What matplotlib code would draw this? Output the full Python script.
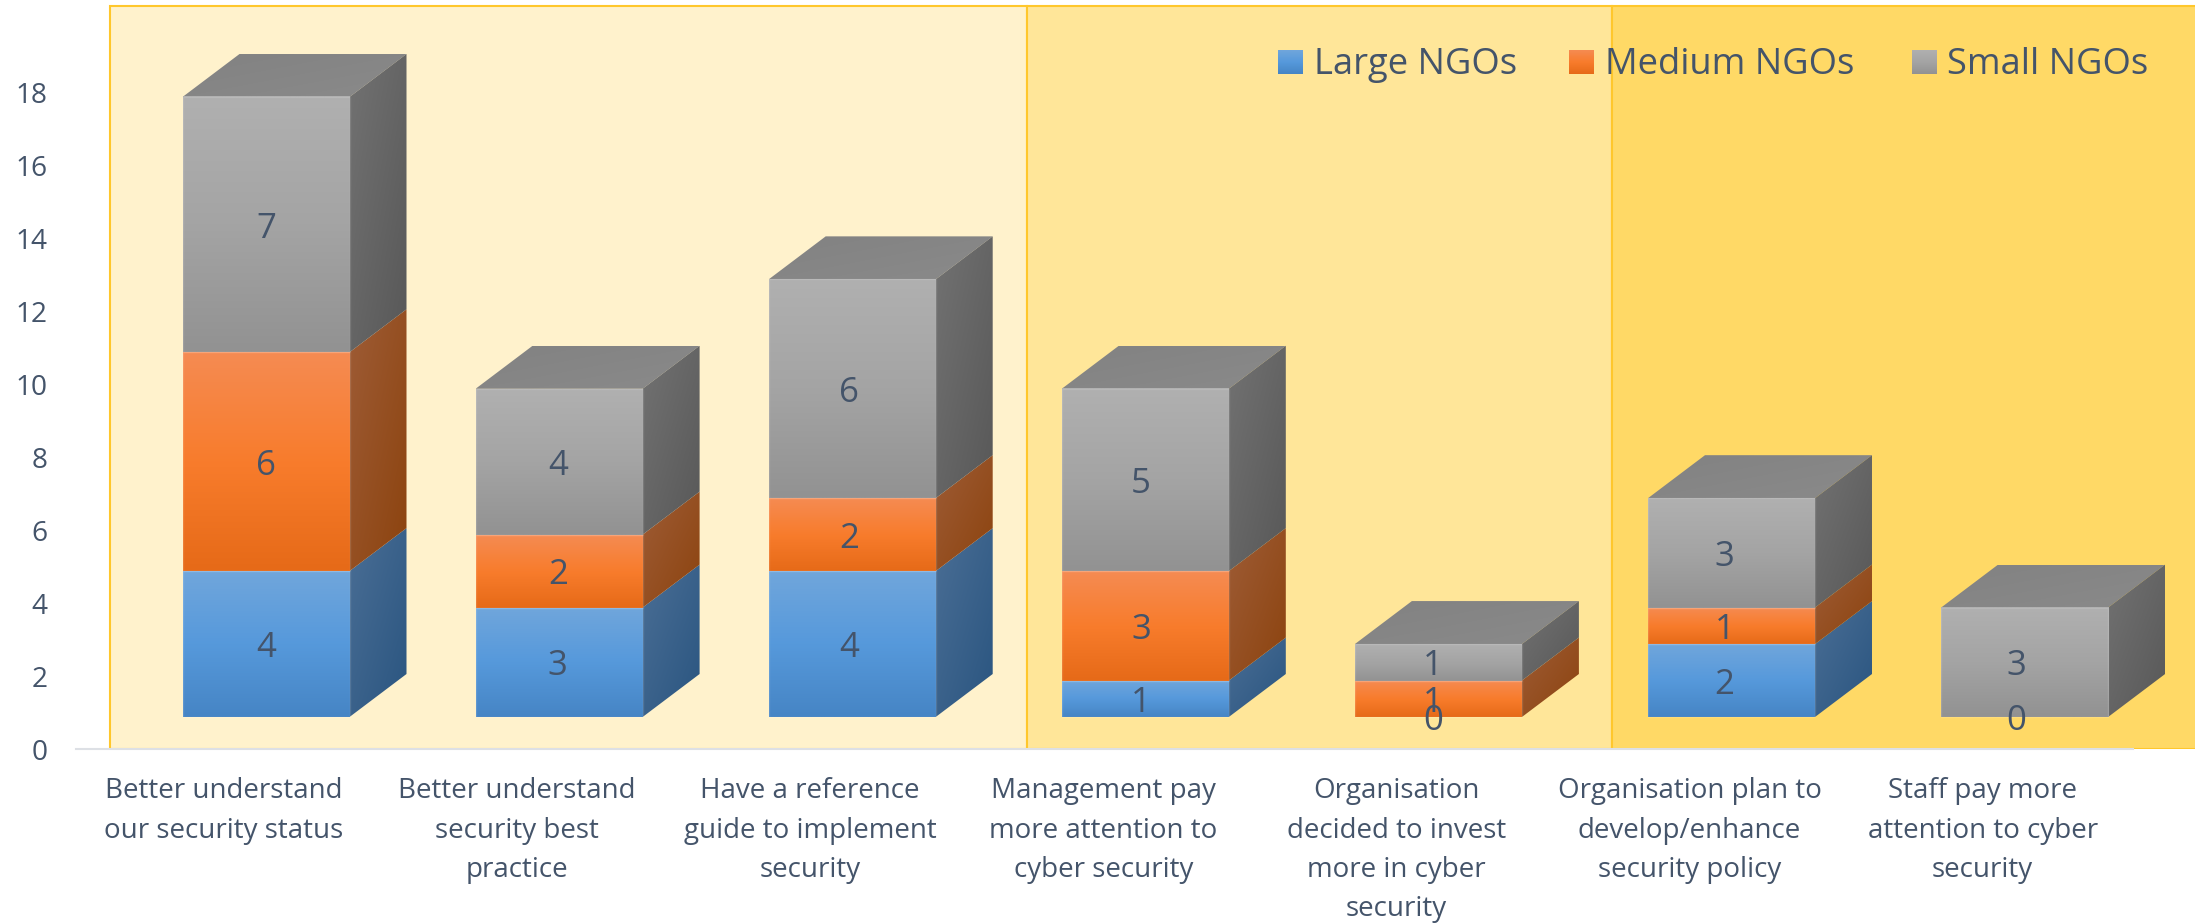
"""Gestapeltes Saulendiagramm (3D-Optik) zur Wirkung der Security-Massnahmen bei NGOs."""

import numpy as np
import matplotlib
matplotlib.use("Agg")
import matplotlib.pyplot as plt
from matplotlib.patches import Polygon, Rectangle

plt.rcParams["font.family"] = ["Open Sans", "DejaVu Sans"]

CATEGORIES = [
    "Better understand\nour security status",
    "Better understand\nsecurity best\npractice",
    "Have a reference\nguide to implement\nsecurity",
    "Management pay\nmore attention to\ncyber security",
    "Organisation\ndecided to invest\nmore in cyber\nsecurity",
    "Organisation plan to\ndevelop/enhance\nsecurity policy",
    "Staff pay more\nattention to cyber\nsecurity",
]
SERIES_NAMES = ["Large NGOs", "Medium NGOs", "Small NGOs"]
LARGE = [4, 3, 4, 1, 0, 2, 0]
MEDIUM = [6, 2, 2, 3, 1, 1, np.nan]
SMALL = [7, 4, 6, 5, 1, 3, 3]
Y_TICKS = [0, 2, 4, 6, 8, 10, 12, 14, 16, 18]

W, H = 2195, 923
TEXT_COLOR = "#44546A"
PX_X = 293.1    # Pixel pro Kategorie
PX_Y = 36.47    # Pixel pro Werteinheit
X0_PX = 224     # Pixelposition von Kategorie 0
Y0_PX = 749     # Pixelposition von Wert 0
AX_LEFT = 76

BAR_W = 167 / PX_X
BAR_SHIFT = 42 / PX_X
FLOOR = 32 / PX_Y
DEPTH_X = 57 / PX_X
DEPTH_Y = 43 / PX_Y
LABEL_DRIFT = -1.4 / PX_X

# Verlaeufe: Front oben/mitte/unten, Seite hell/dunkel
FRONT = [
    ["#70A6DC", "#5699DB", "#4685C5"],
    ["#F58B52", "#F87C2C", "#E66A18"],
    ["#B0B0B0", "#A4A4A4", "#929292"],
]
SIDE = [
    ["#4A6E95", "#2A5580"],
    ["#9E5C36", "#8C430E"],
    ["#727272", "#585858"],
]
TOP = ["#828282", "#8A8A8A"]

PANELS = [(110, 1027, "#FFF2CC"), (1027, 1612, "#FFE699"), (1612, 2240, "#FFD966")]
PANEL_EDGE = "#FFC72C"


def to_rgb(c):
    return np.array(matplotlib.colors.to_rgb(c))


def xd(px):
    return (px - X0_PX) / PX_X


def yd(py):
    return (Y0_PX - py) / PX_Y


def vertical_gradient(stops, n=80):
    pos = np.linspace(0, 1, n)
    rgb = np.array([to_rgb(c) for c in stops])
    anchor = np.linspace(0, 1, len(stops))
    col = np.stack([np.interp(pos, anchor, rgb[:, k]) for k in range(3)], axis=-1)
    return col[:, None, :]


def diagonal_gradient(c1, c2, n=60):
    u, v = np.meshgrid(np.linspace(0, 1, n), np.linspace(0, 1, n))
    t = ((u + v) / 2)[..., None]
    return to_rgb(c1) * (1 - t) + to_rgb(c2) * t


def draw_front(ax, x0, x1, y0, y1, stops):
    ax.imshow(vertical_gradient(stops), extent=(x0, x1, y0, y1), origin="upper",
              aspect="auto", interpolation="bilinear", zorder=3)
    # feine helle Kante
    ax.add_patch(Rectangle((x0, y0), x1 - x0, y1 - y0, fill=False,
                           ec=(1, 1, 1, 0.12), lw=1.0, zorder=3.2))


def draw_skew(ax, pts, c1, c2, zorder=2.8):
    xs = [p[0] for p in pts]
    ys = [p[1] for p in pts]
    im = ax.imshow(diagonal_gradient(c1, c2), extent=(min(xs), max(xs), min(ys), max(ys)),
                   origin="upper", aspect="auto", interpolation="bilinear", zorder=zorder)
    poly = Polygon(pts, closed=True, transform=ax.transData, fc="none", ec="none")
    ax.add_patch(poly)
    im.set_clip_path(poly)


fig = plt.figure(figsize=(W / 100, H / 100), dpi=100)
ax = fig.add_axes([AX_LEFT / W, (H - Y0_PX) / H, (W - AX_LEFT) / W, Y0_PX / H])
ax.patch.set_alpha(0)

# Hintergrundfelder
for left, right, color in PANELS:
    ax.add_patch(Rectangle((xd(left), 0), xd(right) - xd(left), yd(5.5),
                           fc=color, ec=PANEL_EDGE, lw=1.5, zorder=1, clip_on=True))

# Saeulen von unten nach oben stapeln
series = [np.array(LARGE, float), np.array(MEDIUM, float), np.array(SMALL, float)]
for i in range(len(CATEGORIES)):
    x0 = i + BAR_SHIFT - BAR_W / 2
    x1 = x0 + BAR_W
    base = FLOOR
    for k, values in enumerate(series):
        val = values[i]
        if np.isnan(val):
            continue
        top = base + val
        label_y = (base + top) / 2
        if val > 0:
            draw_skew(ax, [(x1, base), (x1, top), (x1 + DEPTH_X, top + DEPTH_Y),
                           (x1 + DEPTH_X, base + DEPTH_Y)], SIDE[k][0], SIDE[k][1])
            draw_front(ax, x0, x1, base, top, FRONT[k])
        ax.text(i + BAR_SHIFT + LABEL_DRIFT * i, label_y, f"{val:.0f}",
                ha="center", va="center_baseline", fontsize=25, color=TEXT_COLOR, zorder=5)
        base = top
    draw_skew(ax, [(x0, base), (x1, base), (x1 + DEPTH_X, base + DEPTH_Y),
                   (x0 + DEPTH_X, base + DEPTH_Y)], TOP[0], TOP[1], zorder=2.7)

# Legende mit Verlaufs-Kaestchen
legend_swatch = [(1278, 1303), (1569, 1594), (1912, 1936)]
legend_text = [1314, 1605, 1947]
for k, name in enumerate(SERIES_NAMES):
    sx0, sx1 = legend_swatch[k]
    ax.imshow(vertical_gradient(FRONT[k]), extent=(xd(sx0), xd(sx1), yd(74), yd(50)),
              origin="upper", aspect="auto", interpolation="bilinear", zorder=6)
    ax.text(xd(legend_text[k]), yd(60), name, ha="left", va="center_baseline",
            fontsize=26.2, color=TEXT_COLOR, zorder=6)

ax.set_xlim(xd(AX_LEFT), xd(W))
ax.set_ylim(0, Y0_PX / PX_Y)

ax.set_yticks(Y_TICKS)
ax.set_xticks(range(len(CATEGORIES)))
ax.set_xticklabels(CATEGORIES, linespacing=1.53)
ax.tick_params(axis="y", length=0, pad=20.5, labelsize=20.2, labelcolor=TEXT_COLOR)
ax.tick_params(axis="x", length=0, pad=20.5, labelsize=20, labelcolor=TEXT_COLOR)

for side in ["top", "right", "left"]:
    ax.spines[side].set_visible(False)
ax.spines["bottom"].set_color("#DDE0E5")
ax.spines["bottom"].set_linewidth(1.5)
ax.spines["bottom"].set_bounds(xd(AX_LEFT), xd(2133))
ax.spines["bottom"].set_zorder(2)

fig.savefig("out.png", dpi=100)
plt.close(fig)
